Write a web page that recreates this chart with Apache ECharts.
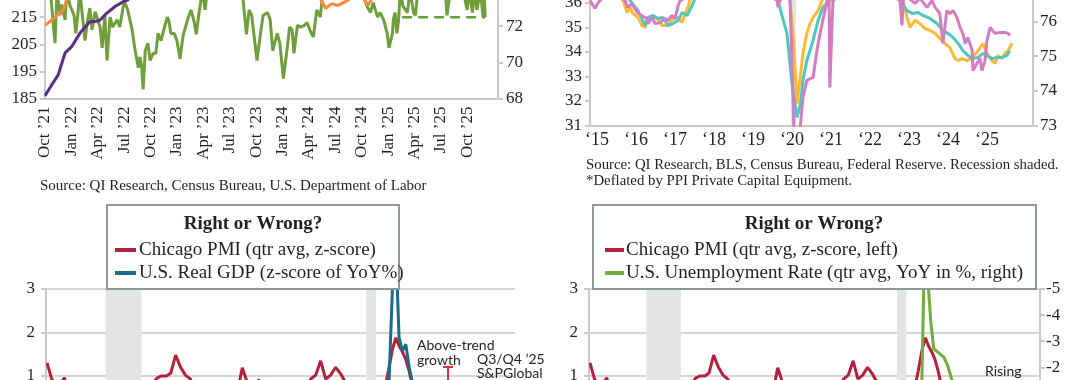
<!DOCTYPE html>
<html><head><meta charset="utf-8">
<script src="https://cdn.jsdelivr.net/npm/echarts@6/dist/echarts.min.js"></script>
<style>html,body{margin:0;padding:0;background:#fff}#c{width:1080px;height:380px}</style>
</head><body><div id="c"></div>
<script>
// ---------- Panel 1 (x = months since Oct 2021) ----------
const p1MonthNames = ['Jan','Apr','Jul','Oct'];
const p1Green = [[0.57,74.2],[0.9,72.35],[1.14,71.06],[1.37,74],[1.7,72.6],[1.9,73.2],[2.28,72.35],[2.5,74],[2.8,73.2],[3.3,72.6],[3.5,71.6],[3.75,72.7],[3.95,74],[4.3,72.35],[4.55,71.2],[4.8,72.2],[5.1,73],[5.35,71.8],[5.7,72.8],[5.9,72.75],[6.26,71.95],[6.5,70.8],[6.8,72.6],[7.05,70.1],[7.4,72.5],[7.7,71.95],[8.2,72.35],[8.5,71.95],[8.9,73.1],[9.1,73.3],[9.4,72.9],[9.9,71.8],[10.2,70.8],[10.6,69.7],[10.8,70.3],[11.0,69.7],[11.15,68.5],[11.4,70.65],[11.7,71.05],[11.95,70.1],[12.3,70.5],[12.6,70.5],[12.85,71.6],[13.2,71.2],[13.5,71.8],[13.9,72.5],[14.1,72.25],[14.3,71.6],[14.7,71.6],[15.0,71.2],[15.35,70.2],[15.7,71.5],[16.3,72.5],[16.6,72.9],[16.95,72.25],[17.2,71.55],[17.5,72.7],[17.9,74],[18.2,72.9],[18.5,74.2],[19.5,74.5],[20.5,74.8],[21.5,74.3],[22.3,74.6],[22.9,71.55],[23.2,72.9],[23.5,72.6],[24.1,70.1],[24.5,71.6],[24.8,72.6],[25.3,72.75],[25.6,72.35],[25.9,70.65],[26.4,71.6],[26.7,71.05],[27.1,69.1],[27.5,70.65],[27.8,71.95],[28.1,71.8],[28.3,70.5],[28.7,72.05],[29.0,71.95],[29.5,72.05],[29.8,72.2],[30.1,71.8],[30.5,71.4],[30.9,72.9],[31.3,72.5],[31.6,74],[32.2,73.6],[33,74.2],[33.8,73.8],[34.5,74.3],[35.3,73.7],[36,74.2],[36.6,73.1],[37.0,72.75],[37.3,73.3],[37.8,72.5],[38.1,72.75],[38.5,72.35],[38.9,71.6],[39.1,70.8],[39.5,71.6],[39.6,72.35],[39.8,72.75],[40.0,71.6],[40.2,72.35],[40.4,74],[40.7,73.1],[41.2,72.75],[41.5,74],[41.9,72.75],[42.1,72.6],[42.4,74],[43,74.3],[44,73.8],[45,74.4],[45.5,74],[45.7,72.6],[46.1,74],[47.0,74.3],[47.6,73.8],[48.0,72.9],[48.2,74],[48.6,72.75],[48.8,74],[49.1,72.9],[49.5,74],[49.8,72.5],[49.9,74],[50.05,72.5]];
const p1GreenAvg = [[40.6,72.5],[50.05,72.5]];
const p1Purple = [[0,186],[0.76,190],[1.5,193.7],[2.28,201.8],[3,204],[4,209.2],[5.1,213.3],[5.9,213.5],[6.3,214],[7,216.4],[8,219],[8.9,220.7],[9.4,221.3],[10,223],[11,225.5],[12,228]];
const p1Orange = [[0,212],[1,214.5],[2.08,217.7],[2.5,221.5],[3,224],[4,227],[30,228],[31,224],[31.3,222],[31.9,218.2],[32.6,220],[33.3,219.3],[34.1,220.6],[35,222.5],[36.2,222],[36.7,219.3],[37.2,222],[38,226]];

// ---------- Panel 2 (x = years) ----------
const p2YearLabels = [2015,2016,2017,2018,2019,2020,2021,2022,2023,2024,2025];
const p2Recession = [2019.97, 2020.1];
const p2Yellow = [[2014.82,36.8],[2015.3,36.9],[2015.67,36.1],[2015.77,35.61],[2015.85,35.82],[2015.92,35.57],[2016.05,35.41],[2016.15,35.08],[2016.23,35.0],[2016.31,35.37],[2016.41,35.41],[2016.54,35.37],[2016.67,35.08],[2016.79,35.08],[2016.87,35.2],[2016.95,35.37],[2017.08,35.41],[2017.18,35.2],[2017.26,35.57],[2017.33,35.82],[2017.38,36.1],[2017.6,36.6],[2018.3,37],[2019.2,36.9],[2019.85,36.5],[2019.95,36.1],[2020.03,34.67],[2020.13,31.9],[2020.21,32.96],[2020.28,33.94],[2020.38,34.76],[2020.46,35.16],[2020.54,35.41],[2020.67,35.69],[2020.77,36.1],[2021.0,36.8],[2022.0,37],[2022.7,36.6],[2022.85,36.1],[2022.95,35.41],[2023.03,35.0],[2023.15,35.29],[2023.28,35.16],[2023.41,34.96],[2023.54,34.88],[2023.67,34.76],[2023.79,34.55],[2023.92,34.35],[2024.05,34.18],[2024.18,33.73],[2024.26,33.65],[2024.36,33.73],[2024.49,33.65],[2024.64,33.78],[2024.77,34.06],[2024.9,34.35],[2025.0,33.94],[2025.13,33.65],[2025.21,33.53],[2025.28,33.86],[2025.38,33.73],[2025.46,33.94],[2025.54,34.06],[2025.64,34.35]];
const p2Turq = [[2014.82,36.6],[2015.4,36.7],[2015.85,36.1],[2016.05,35.69],[2016.15,35.37],[2016.23,35.08],[2016.31,35.41],[2016.44,35.49],[2016.56,35.37],[2016.69,35.41],[2016.82,35.08],[2016.95,35.16],[2017.08,35.29],[2017.18,35.61],[2017.31,35.49],[2017.44,35.9],[2017.49,36.1],[2017.8,36.7],[2018.5,37],[2019.3,36.8],[2019.64,36.1],[2019.87,34.76],[2020.0,32.71],[2020.13,31.33],[2020.21,31.82],[2020.28,32.84],[2020.38,33.65],[2020.46,34.06],[2020.54,34.47],[2020.67,35.29],[2020.79,35.82],[2020.97,36.1],[2021.3,36.6],[2022.0,36.8],[2022.6,36.5],[2022.77,36.1],[2022.95,35.69],[2023.1,35.57],[2023.23,35.61],[2023.36,35.49],[2023.54,35.37],[2023.72,35.16],[2023.87,34.88],[2024.0,34.76],[2024.13,34.59],[2024.26,34.35],[2024.38,34.06],[2024.51,33.86],[2024.64,33.73],[2024.77,33.78],[2024.9,33.94],[2025.0,33.86],[2025.13,33.73],[2025.26,33.78],[2025.38,33.78],[2025.51,33.86],[2025.59,34.06]];
const p2Pink = [[2014.82,36.1],[2014.95,35.78],[2015.03,36.02],[2015.33,36.5],[2015.72,36.1],[2015.79,35.82],[2015.9,35.98],[2016.03,35.61],[2016.15,35.49],[2016.28,35.37],[2016.31,35.16],[2016.41,35.41],[2016.49,35.16],[2016.62,35.2],[2016.74,35.37],[2016.82,35.29],[2016.92,35.49],[2017.0,35.37],[2017.05,35.69],[2017.08,35.9],[2017.13,36.1],[2018.0,36.8],[2019.0,36.7],[2019.62,36.1],[2019.64,35.82],[2019.69,36.1],[2019.85,36.4],[2019.95,36.1],[2020.05,30.9],[2020.13,30.4],[2020.21,30.9],[2020.28,32.14],[2020.38,32.84],[2020.54,32.96],[2020.64,34.06],[2020.72,34.76],[2020.79,35.29],[2020.9,36.1],[2020.95,36.3],[2020.97,32.55],[2021.05,36.1],[2021.5,36.7],[2022.3,36.6],[2022.77,36.1],[2022.82,35.08],[2022.85,36.1],[2022.92,36.3],[2023.15,35.98],[2023.28,36.2],[2023.46,35.82],[2023.59,36.1],[2023.67,35.82],[2023.79,35.57],[2023.87,34.35],[2023.97,35.69],[2024.05,35.57],[2024.13,35.69],[2024.23,35.41],[2024.31,35.0],[2024.38,34.76],[2024.44,34.35],[2024.51,34.59],[2024.62,34.06],[2024.64,33.24],[2024.74,33.53],[2024.82,33.73],[2024.87,33.24],[2024.95,33.65],[2025.0,34.47],[2025.08,35.0],[2025.21,34.76],[2025.33,34.8],[2025.46,34.8],[2025.54,34.76],[2025.59,34.67]];

// ---------- Panels 3 & 4 (x = years, quarterly) ----------
const recessions = [[2008.0,2009.65],[2020.0,2020.45]];
const chicagoPMI = [[2005.3,1.3],[2005.5,0.95],[2005.75,0.7],[2006.1,0.96],[2006.3,0.6],[2006.55,0.35],[2006.8,0.15],[2007.05,-0.1],[2007.3,0.2],[2007.55,0.25],[2007.8,-0.1],[2008.05,-0.6],[2008.3,-0.9],[2008.55,-1.0],[2008.8,-2.0],[2009.05,-2.6],[2009.3,-2.0],[2009.55,-0.8],[2009.8,0.3],[2010.05,0.75],[2010.36,0.95],[2010.55,1.0],[2010.8,1.0],[2011.0,1.07],[2011.22,1.48],[2011.43,1.22],[2011.67,1.02],[2011.9,0.93],[2012.15,0.6],[2012.4,0.2],[2012.65,-0.3],[2012.9,-0.2],[2013.15,0.1],[2013.4,-0.3],[2013.65,0.5],[2013.9,0.85],[2014.13,0.8],[2014.29,1.19],[2014.52,0.85],[2014.75,0.7],[2015.0,0.1],[2015.25,-0.6],[2015.5,-0.4],[2015.75,-0.7],[2016.0,-0.5],[2016.25,-0.2],[2016.5,-0.4],[2016.75,0.1],[2017.0,0.5],[2017.25,0.7],[2017.44,0.93],[2017.67,1.02],[2017.9,1.35],[2018.13,0.93],[2018.36,1.02],[2018.59,1.2],[2018.82,1.05],[2019.05,0.85],[2019.3,0.1],[2019.55,-0.7],[2019.8,-0.9],[2020.05,-0.9],[2020.3,-2.9],[2020.55,-0.8],[2020.8,0.6],[2021.02,1.12],[2021.2,1.6],[2021.36,1.88],[2021.52,1.68],[2021.67,1.55],[2021.82,1.38],[2021.98,1.1],[2022.2,0.6],[2022.45,0.2],[2022.7,-0.6],[2022.95,-0.9],[2023.2,-1.1],[2023.45,-1.3],[2023.7,-1.2],[2023.95,-1.4],[2024.2,-1.3],[2024.45,-1.2],[2024.7,-1.25],[2024.95,-1.2],[2025.2,-1.0],[2025.45,-0.9],[2025.7,-1.0]];
const realGDP = [[2005.25,0.85],[2005.5,0.6],[2005.75,0.5],[2006.0,0.65],[2006.25,0.4],[2006.5,0.1],[2006.75,0.2],[2007.0,-0.1],[2007.25,0.0],[2007.5,0.2],[2007.75,0.1],[2008.0,-0.2],[2008.25,-0.4],[2008.5,-0.8],[2008.75,-1.6],[2009.0,-2.8],[2009.25,-3.0],[2009.5,-2.4],[2009.75,-0.9],[2010.0,0.3],[2010.25,0.5],[2010.5,0.4],[2010.75,0.3],[2011.0,-0.1],[2011.25,-0.3],[2011.5,-0.2],[2011.75,0.2],[2012.0,0.3],[2012.25,0.2],[2012.5,0.0],[2012.75,-0.3],[2013.0,-0.1],[2013.25,-0.2],[2013.5,-0.1],[2013.75,0.2],[2014.0,0.0],[2014.25,0.2],[2014.5,0.4],[2014.75,0.6],[2015.05,0.92],[2015.25,0.6],[2015.5,0.4],[2015.75,0.2],[2016.0,-0.1],[2016.25,-0.3],[2016.5,-0.2],[2016.75,-0.2],[2017.0,0.0],[2017.25,0.1],[2017.5,0.3],[2017.75,0.4],[2018.0,0.5],[2018.25,0.6],[2018.5,0.7],[2018.75,0.5],[2019.0,0.4],[2019.25,0.3],[2019.5,0.3],[2019.75,0.3],[2020.0,-0.2],[2020.25,-4.5],[2020.5,-1.5],[2020.75,-1.3],[2021.05,0.89],[2021.32,4.6],[2021.51,1.88],[2021.67,1.57],[2021.82,1.73],[2021.98,1.19],[2022.13,0.85],[2022.35,0.2],[2022.6,0.1],[2022.85,0.0],[2023.1,0.1],[2023.35,0.2],[2023.6,0.3],[2023.85,0.4],[2024.1,0.2],[2024.35,0.3],[2024.6,0.2],[2024.85,0.2],[2025.1,0.1],[2025.35,0.0]];
const unempYoY = [[2005.25,-0.4],[2005.5,-0.5],[2005.75,-0.5],[2006.0,-0.6],[2006.25,-0.5],[2006.5,-0.3],[2006.75,-0.5],[2007.0,-0.3],[2007.25,-0.1],[2007.5,0.1],[2007.75,0.3],[2008.0,0.4],[2008.25,0.9],[2008.5,1.3],[2008.75,2.1],[2009.0,3.3],[2009.25,4.3],[2009.5,4.5],[2009.75,4.1],[2010.0,1.9],[2010.25,0.3],[2010.5,0.1],[2010.75,-0.5],[2011.0,-0.8],[2011.25,-0.6],[2011.5,-0.5],[2011.75,-0.9],[2012.0,-0.8],[2012.25,-0.9],[2012.5,-1.0],[2012.75,-0.8],[2013.0,-0.3],[2013.25,-0.6],[2013.5,-0.8],[2013.75,-0.8],[2014.0,-1.1],[2014.25,-1.3],[2014.5,-1.1],[2014.75,-1.3],[2015.0,-1.1],[2015.25,-0.8],[2015.5,-1.0],[2015.75,-0.7],[2016.0,-0.6],[2016.25,-0.5],[2016.5,-0.3],[2016.75,-0.3],[2017.0,-0.3],[2017.25,-0.5],[2017.5,-0.6],[2017.75,-0.7],[2018.0,-0.6],[2018.25,-0.5],[2018.5,-0.5],[2018.75,-0.4],[2019.0,-0.2],[2019.25,-0.3],[2019.5,-0.3],[2019.75,-0.3],[2020.0,0.0],[2020.35,9.3],[2020.6,5.2],[2020.85,3.1],[2021.1,2.4],[2021.33,-7.1],[2021.62,-3.74],[2021.76,-2.71],[2021.94,-2.59],[2022.24,-2.39],[2022.42,-2.08],[2022.66,-1.44],[2022.9,-0.6],[2023.15,-0.3],[2023.4,-0.1],[2023.65,0.1],[2023.9,0.2],[2024.15,0.3],[2024.4,0.5],[2024.65,0.5],[2024.9,0.3],[2025.15,0.2],[2025.4,0.1],[2025.6,0.2]];

// ---------- Texts ----------
const txtSource1 = 'Source: QI Research, Census Bureau, U.S. Department of Labor';
const txtSource2a = 'Source: QI Research, BLS, Census Bureau, Federal Reserve. Recession shaded.';
const txtSource2b = '*Deflated by PPI Private Capital Equipment.';
const txtBoxTitle = 'Right or Wrong?';
const txtLeg3 = ['Chicago PMI (qtr avg, z-score)', 'U.S. Real GDP (z-score of YoY%)'];
const txtLeg4 = ['Chicago PMI (qtr avg, z-score, left)', 'U.S. Unemployment Rate (qtr avg, YoY in %, right)'];

const SERIF = '"Liberation Serif", "DejaVu Serif", serif';
const SANS = 'Lato, "Open Sans", sans-serif';
const TXT = '#231f20';
const AX = '#c9c9c9';
const GRIDC = '#d6d6d6';
const SHADE = '#e3e4e6';
const RED = '#b3213b', BLUE = '#1c6b8c', GREEN4 = '#6fad3e';

const chart = echarts.init(document.getElementById('c'), null, {renderer:'canvas'});

function yAx(gi, o) {
  return Object.assign({
    type:'value', gridIndex:gi,
    axisLine:{show:true, lineStyle:{color:AX, width:2}},
    axisTick:{show:true, length:5, lineStyle:{color:AX, width:2}},
    axisLabel:{color:TXT, fontFamily:SERIF, fontSize:17, margin:8},
    splitLine:{show:false}
  }, o);
}
function line(name, data, color, xi, yi, extra) {
  return Object.assign({type:'line', name, data, xAxisIndex:xi, yAxisIndex:yi, showSymbol:false, symbol:'none',
    lineStyle:{color, width:3}, itemStyle:{color}, z:3, clip:true, silent:true}, extra||{});
}
function shadeSeries(xi, yi, ranges) {
  return {type:'line', data:[], xAxisIndex:xi, yAxisIndex:yi, z:1, silent:true,
    markArea:{silent:true, itemStyle:{color:SHADE}, data: ranges.map(r => [{xAxis:r[0]},{xAxis:r[1]}])}};
}
function txt(text, x, y, size, o) {
  return {type:'text', z:120, silent:true, style:Object.assign({text, x, y, fontSize:size, fontFamily:SERIF, fill:TXT, align:'left', verticalAlign:'middle'}, o||{})};
}
function p1Label(v) {
  const i = Math.round(v);
  if (i > 48) return '';
  const k = 9 + i;               // months since Jan 2021
  const yy = 21 + Math.floor(k / 12);
  return p1MonthNames[Math.floor((k % 12) / 3)] + ' \u2019' + yy;
}

const option = {
  animation:false,
  backgroundColor:'#ffffff',
  grid:[
    {left:45, right:582, top:-10, height:108.5, outerBoundsMode:'none', containLabel:false},
    {left:590, right:47, top:-21.5, height:147, outerBoundsMode:'none', containLabel:false},
    {left:46, right:565, top:289, height:261, outerBoundsMode:'none', containLabel:false},
    {left:589, right:40, top:289, height:261, outerBoundsMode:'none', containLabel:false}
  ],
  xAxis:[
    {type:'value', gridIndex:0, min:0, max:51.5, interval:3,
      axisLine:{show:true, lineStyle:{color:AX, width:2}}, axisTick:{show:false}, splitLine:{show:false},
      axisLabel:{rotate:90, margin:8, color:TXT, fontFamily:SERIF, fontSize:17, showMaxLabel:false, formatter:p1Label}},
    {type:'value', gridIndex:1, min:2014.82, max:2026.18,
      axisLine:{show:true, lineStyle:{color:AX, width:2}}, axisTick:{show:false}, splitLine:{show:false},
      axisLabel:{customValues:p2YearLabels, margin:6, color:TXT, fontFamily:SERIF, fontSize:18,
        formatter:v => (Math.abs(v - Math.round(v)) < 1e-6 && v <= 2025) ? '\u2018' + String(Math.round(v)).slice(2) : ''}},
    {type:'value', gridIndex:2, min:2005.25, max:2026.85, show:false},
    {type:'value', gridIndex:3, min:2005.25, max:2026.85, show:false}
  ],
  yAxis:[
    yAx(0, {min:185, max:225, interval:10}),
    yAx(0, {min:68, max:74, interval:2, position:'right'}),
    yAx(1, {min:31, max:37, interval:1}),
    yAx(1, {min:73, max:77.24, interval:1, position:'right',
      axisLabel:{color:TXT, fontFamily:SERIF, fontSize:17, margin:7, formatter:v => Number.isInteger(v) ? String(v) : ''}}),
    yAx(2, {min:-3, max:3, interval:1, axisLabel:{color:TXT, fontFamily:SERIF, fontSize:17, margin:11},
      splitLine:{show:true, lineStyle:{color:GRIDC, width:2}}}),
    yAx(3, {min:-3, max:3, interval:1, axisLabel:{color:TXT, fontFamily:SERIF, fontSize:17, margin:11},
      splitLine:{show:true, lineStyle:{color:GRIDC, width:2}}}),
    yAx(3, {min:-5, max:5, interval:1, inverse:true, position:'right',
      axisLabel:{color:TXT, fontFamily:SERIF, fontSize:17, margin:6}})
  ],
  series:[
    line('Green', p1Green, '#6f9f3b', 0, 1),
    line('Green avg', p1GreenAvg, '#6f9f3b', 0, 1, {lineStyle:{color:'#6f9f3b', width:2.5, type:[10,6]}}),
    line('Purple', p1Purple, '#5c2d82', 0, 0),
    line('Orange', p1Orange, '#f68b3c', 0, 0),
    shadeSeries(1, 2, [p2Recession]),
    line('Yellow', p2Yellow, '#fdb933', 1, 2),
    line('Turquoise', p2Turq, '#4fc6c2', 1, 2),
    line('Pink', p2Pink, '#d27dc2', 1, 2),
    shadeSeries(2, 4, recessions),
    line('Chicago PMI', chicagoPMI, RED, 2, 4),
    line('Real GDP', realGDP, BLUE, 2, 4, {z:4}),
    shadeSeries(3, 5, recessions),
    line('Chicago PMI 2', chicagoPMI, RED, 3, 5),
    line('Unemployment', unempYoY, GREEN4, 3, 6, {z:4})
  ],
  graphic:{elements:[
    txt(txtSource1, 40, 186, 15),
    txt(txtSource2a, 586, 165, 14.8),
    txt(txtSource2b, 586, 181, 14.8),
    {type:'rect', z:110, silent:true, shape:{x:107, y:205, width:292, height:84}, style:{fill:'#fff', stroke:'#8f9797', lineWidth:2}},
    txt(txtBoxTitle, 253, 224, 19, {align:'center', fontWeight:'bold'}),
    {type:'rect', z:120, silent:true, shape:{x:115, y:248, width:21, height:4}, style:{fill:RED}},
    txt(txtLeg3[0], 139, 250, 19),
    {type:'rect', z:120, silent:true, shape:{x:115, y:271, width:21, height:4}, style:{fill:BLUE}},
    txt(txtLeg3[1], 139, 273, 19),
    {type:'rect', z:110, silent:true, shape:{x:593, y:205, width:443, height:84}, style:{fill:'#fff', stroke:'#8f9797', lineWidth:2}},
    txt(txtBoxTitle, 814, 224, 19, {align:'center', fontWeight:'bold'}),
    {type:'rect', z:120, silent:true, shape:{x:605, y:248, width:19, height:4}, style:{fill:RED}},
    txt(txtLeg4[0], 626, 250, 19),
    {type:'rect', z:120, silent:true, shape:{x:605, y:271, width:19, height:4}, style:{fill:GREEN4}},
    txt(txtLeg4[1], 626, 273, 19),
    txt('Above-trend', 417, 345, 14, {fontFamily:SANS}),
    txt('growth', 417, 360, 14, {fontFamily:SANS}),
    txt('Q3/Q4 \u201925', 477, 359, 14, {fontFamily:SANS}),
    txt('S&PGlobal', 477, 373, 14, {fontFamily:SANS}),
    {type:'rect', z:120, silent:true, shape:{x:447, y:366, width:2, height:14}, style:{fill:'#e0303a'}},
    {type:'rect', z:120, silent:true, shape:{x:443, y:366, width:10, height:2}, style:{fill:'#e0303a'}},
    txt('Rising', 985, 371, 14, {fontFamily:SANS})
  ]}
};
chart.setOption(option);
</script></body></html>
